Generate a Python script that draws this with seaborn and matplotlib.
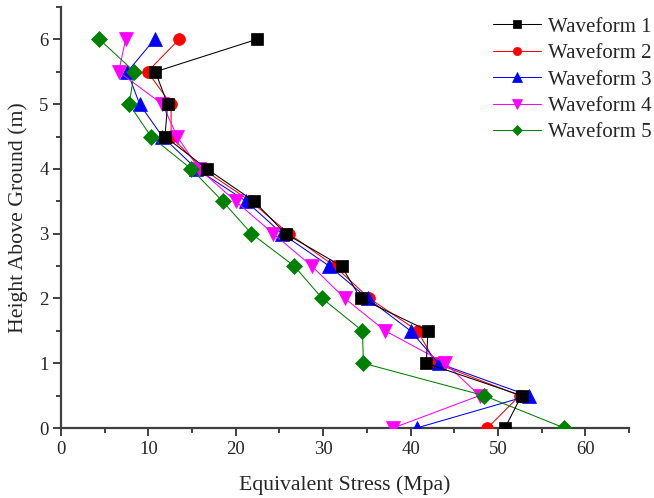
import matplotlib
matplotlib.use("Agg")
import matplotlib.pyplot as plt
import seaborn as sns
import numpy as np
import pandas as pd
from matplotlib.ticker import MultipleLocator

heights = [0, 0.5, 1, 1.5, 2, 2.5, 3, 3.5, 4, 4.5, 5, 5.5, 6]
wave1 = [50.8, 52.7, 41.8, 42.0, 34.3, 32.1, 25.7, 22.1, 16.7, 11.9, 12.2, 10.8, 22.4]
wave2 = [48.8, 52.5, 42.9, 40.8, 35.3, 31.3, 26.1, 21.7, 16.2, 12.6, 12.6, 9.9, 13.5]
wave3 = [40.7, 53.5, 43.2, 40.0, 35.1, 30.7, 25.3, 21.2, 15.5, 11.6, 9.0, 7.6, 10.7]
wave4 = [38.0, 47.9, 44.0, 37.1, 32.5, 28.7, 24.3, 20.0, 15.8, 13.3, 11.6, 6.6, 7.4]
wave5 = [57.6, 48.4, 34.6, 34.5, 29.9, 26.7, 21.8, 18.5, 14.9, 10.3, 7.8, 8.4, 4.4]
names = ["Waveform 1", "Waveform 2", "Waveform 3", "Waveform 4", "Waveform 5"]
series = [wave1, wave2, wave3, wave4, wave5]
colors = ["#000000", "#FF0000", "#0000FF", "#FF00FF", "#008000"]
markers = ["s", "o", "^", "v", "D"]
msizes = [8.5, 8.5, 9.5, 9.5, 8.0]
zorders = [10, 6, 7, 8, 9]

sns.set_style("ticks")
plt.rcParams['font.family'] = ['Liberation Serif', 'DejaVu Serif']
plt.rcParams['mathtext.fontset'] = 'stix'

fig = plt.figure(figsize=(6.54, 4.98), dpi=100)
ax = fig.add_axes([61/654, 70/498, (629-61)/654, (428-7)/498])

for name, vals, c, m, ms, z in zip(names, series, colors, markers, msizes, zorders):
    df = pd.DataFrame({"x": vals, "y": heights})
    sns.lineplot(data=df, x="x", y="y", sort=False, estimator=None, ax=ax,
                 color=c, marker=m, markersize=ms, markeredgecolor=c,
                 markeredgewidth=0.5, linewidth=0.75, label=name, zorder=z)

ax.set_xlim(0, 65)
ax.set_ylim(0, 6.5)
ax.xaxis.set_minor_locator(MultipleLocator(5))
ax.yaxis.set_minor_locator(MultipleLocator(0.5))
ax.set_xticks([0, 10, 20, 30, 40, 50, 60])
ax.set_xticklabels(["0", "10", "20", "30", "40", "50", "60"])
ax.set_yticks([0, 1, 2, 3, 4, 5, 6])
ax.set_yticklabels(["0", "1", "2", "3", "4", "5", "6"])

for s in ["top", "right"]:
    ax.spines[s].set_visible(False)
for s in ["left", "bottom"]:
    ax.spines[s].set_linewidth(1.6)
    ax.spines[s].set_color("#404040")

ax.tick_params(which="major", direction="out", length=6, width=1.2, color="#202020",
               labelsize=13.5, pad=3)
ax.tick_params(which="minor", direction="out", length=3.5, width=1.2, color="#202020")

ax.set_xlabel("Equivalent Stress (Mpa)", fontsize=15.7, labelpad=13)
ax.set_ylabel("Height Above Ground (m)", fontsize=15.7, labelpad=8)

leg = ax.legend(loc="upper left", bbox_to_anchor=(493/654, 1 - 17/498),
                bbox_transform=fig.transFigure, frameon=False, fontsize=15,
                handlelength=2.3, handletextpad=0.32, labelspacing=0.33,
                markerscale=0.7, borderaxespad=0, borderpad=0)

fig.savefig("out.png", dpi=100)
